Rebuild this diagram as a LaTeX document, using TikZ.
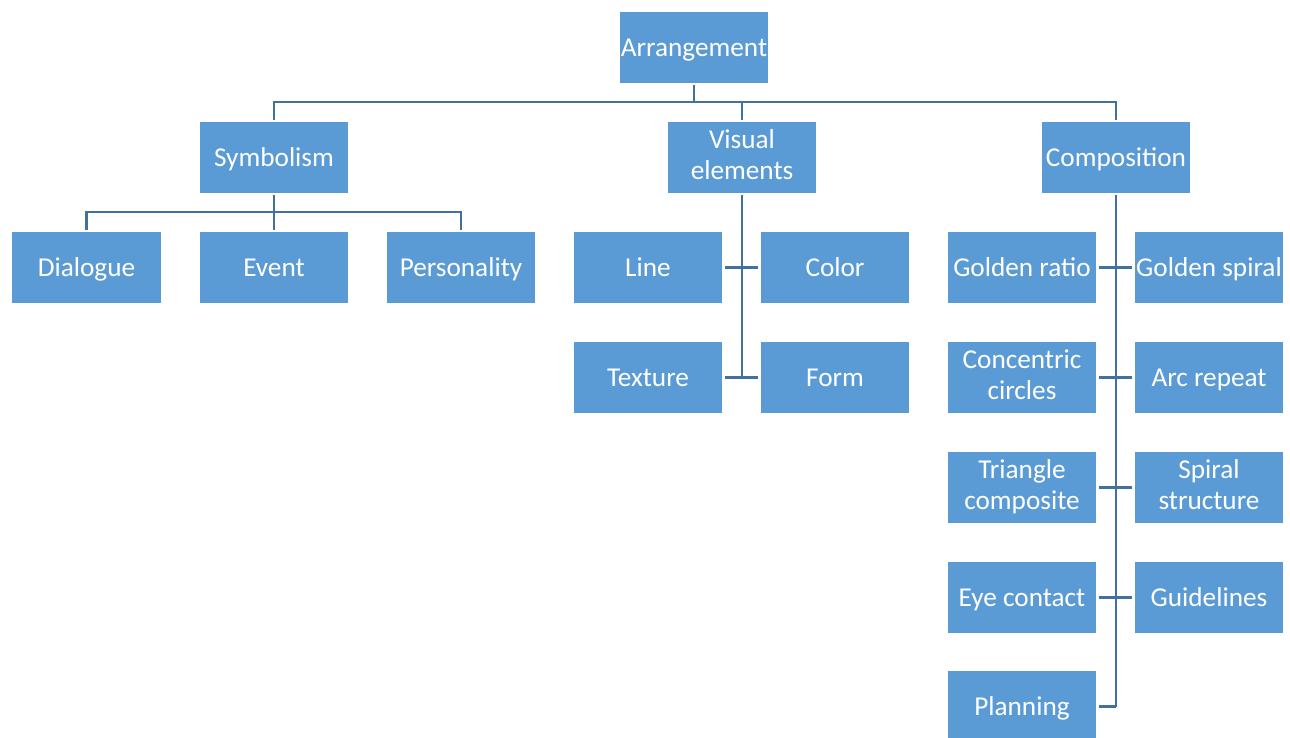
\documentclass[tikz,border=0pt]{standalone}
\usepackage{fontspec}
\setmainfont{Carlito}
\usetikzlibrary{backgrounds}
\definecolor{boxblue}{HTML}{5B9BD5}
\definecolor{linkblue}{HTML}{41719C}
\newcommand\boxstrut{\rule[-3pt]{0pt}{16pt}}
\begin{document}
\begin{tikzpicture}[line join=miter,font=\fontsize{15.5}{17.5}\selectfont,
	box/.style={fill=boxblue,draw=white,line width=1.2pt,text=white,align=center,
		minimum width=3.02cm,minimum height=1.46cm,inner sep=1pt,
		execute at begin node={\boxstrut},execute at end node={\boxstrut}},
	link/.style={draw=linkblue,line width=1.6pt}]
		\useasboundingbox (0,0) rectangle (25.8,-14.76);
		% top
		\node[box] (arr) at (13.88,-0.95) {Arrangement};
		\node[box] (sym) at (5.48,-3.15) {Symbolism};
		\node[box] (vis) at (14.84,-3.15) {Visual\\elements};
		\node[box] (comp) at (22.32,-3.15) {Composition};
		% symbolism
		\node[box] (dia) at (1.73,-5.35) {Dialogue};
		\node[box] (ev) at (5.48,-5.35) {Event};
		\node[box] (pers) at (9.22,-5.35) {Personality};
		% visual elements
		\node[box] (line) at (12.96,-5.35) {Line};
		\node[box] (col) at (16.70,-5.35) {Color};
		\node[box] (tex) at (12.96,-7.55) {Texture};
		\node[box] (form) at (16.70,-7.55) {Form};
		% composition
		\node[box] (gr) at (20.44,-5.35) {Golden ratio};
		\node[box] (gs) at (24.18,-5.35) {Golden spiral};
		\node[box] (cc) at (20.44,-7.55) {Concentric\\circles};
		\node[box] (arc) at (24.18,-7.55) {Arc repeat};
		\node[box] (tri) at (20.44,-9.75) {Triangle\\composite};
		\node[box] (spi) at (24.18,-9.75) {Spiral\\structure};
		\node[box] (eye) at (20.44,-11.95) {Eye contact};
		\node[box] (guide) at (24.18,-11.95) {Guidelines};
		\node[box] (plan) at (20.44,-14.13) {Planning};
		\coordinate (bus) at (13.88,-2.04);
		\coordinate (symbus) at (5.48,-4.24);
		\begin{scope}[on background layer]
		\draw[link] (arr.south) -- (bus);
		\draw[link] (sym.north) |- (bus) -| (comp.north);
		\draw[link] (vis.north) -- (vis.north |- bus);
		\draw[link] (sym.south) -- (ev.north);
		\draw[link] (dia.north) |- (symbus) -| (pers.north);
		\draw[link] (vis.south) -- (vis.south |- tex.east);
		\draw[link] (line.east) -- (col.west);
		\draw[link] (tex.east) -- (form.west);
		\draw[link] (comp.south) -- (comp.south |- plan.east);
		\draw[link] (gr.east) -- (gs.west);
		\draw[link] (cc.east) -- (arc.west);
		\draw[link] (tri.east) -- (spi.west);
		\draw[link] (eye.east) -- (guide.west);
		\draw[link] (plan.east) -- (plan.east -| comp.south);
		\end{scope}
\end{tikzpicture}
\end{document}
